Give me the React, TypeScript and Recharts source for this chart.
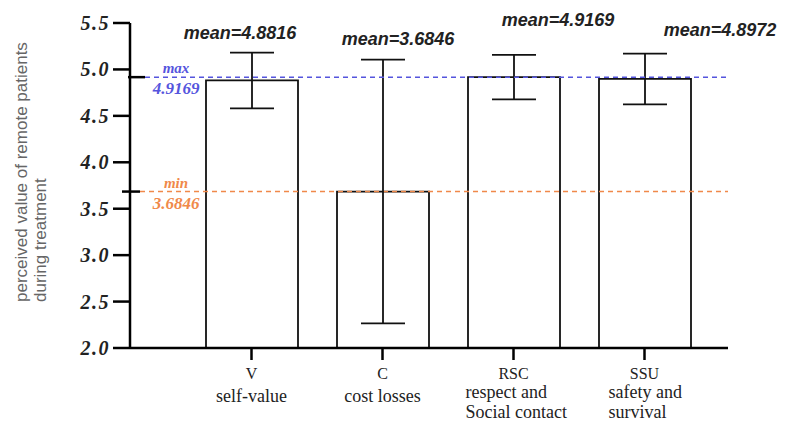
import React from 'react';
import { ComposedChart, Bar, ErrorBar, XAxis, YAxis, ReferenceLine, LabelList } from 'recharts';

// категории и значения
const codes = ['V', 'C', 'RSC', 'SSU'];
const names = [['self-value'], ['cost losses'], ['respect and', 'Social contact'], ['safety and', 'survival']];
const means = [4.8816, 3.6846, 4.9169, 4.8972];
const errors = [0.3, 1.42, 0.24, 0.274];
const yTicks = [2.0, 2.5, 3.0, 3.5, 4.0, 4.5, 5.0, 5.5];
const maxValue = 4.9169;
const minValue = 3.6846;

// смещения подписей (пиксели)
const meanLabelDx = [-12, 15, 44, 75];
const meanLabelY = [39, 45, 26, 36];
const descDx = [0, 0, -48, -36];

const data = codes.map((code, i) => ({
  code,
  mean: means[i],
  err: errors[i],
  label: `mean=${means[i].toFixed(4)}`,
}));

const serif = '"Liberation Serif", "Times New Roman", serif';
const sans = '"Liberation Sans", Arial, sans-serif';

const XTick = (props: any) => {
  const { x, y, payload, index } = props;
  const lines: string[] = names[index] || [];
  const multi = lines.length > 1;
  return (
    <g>
      <text x={x} y={y + 17} textAnchor="middle" fontFamily={serif} fontSize={16} fill="#222">
        {payload.value}
      </text>
      {lines.map((line, j) => (
        <text
          key={j}
          x={x + descDx[index]}
          y={y + (multi ? 36 + j * 20 : 40)}
          textAnchor={multi ? 'start' : 'middle'}
          fontFamily={serif}
          fontSize={18}
          fill="#222"
        >
          {line}
        </text>
      ))}
    </g>
  );
};

const YTick = (props: any) => {
  const { x, y, payload } = props;
  return (
    <text x={x} y={y + 7} textAnchor="end" fontFamily={serif} fontSize={20} fontWeight="bold" fontStyle="italic" fill="#222" letterSpacing={1.5}>
      {payload.value.toFixed(1)}
    </text>
  );
};

const makeRefShape = (color: string, name: string, value: number, solidFrom: number, solidTo: number) => (props: any) => {
  const { x1, y1, x2 } = props;
  return (
    <g>
      <line x1={x1 + solidFrom} y1={y1} x2={x1 + solidTo} y2={y1} stroke="#000" strokeWidth={2.5} />
      <line x1={x1 + solidTo} y1={y1} x2={x2} y2={y1} stroke={color} strokeWidth={1.5} strokeDasharray="5 4" />
      <text x={x1 + 46} y={y1 - 4} textAnchor="middle" fontFamily={serif} fontSize={15} fontWeight="bold" fontStyle="italic" fill={color}>
        {name}
      </text>
      <text x={x1 + 46} y={y1 + 17} textAnchor="middle" fontFamily={serif} fontSize={17} fontWeight="bold" fontStyle="italic" fill={color}>
        {value.toFixed(4)}
      </text>
    </g>
  );
};

const MeanLabel = (props: any) => {
  const { x, width, index, value } = props;
  return (
    <text x={x + width / 2 + meanLabelDx[index]} y={meanLabelY[index]} textAnchor="middle" fontFamily={sans} fontSize={18} fontWeight="bold" fontStyle="italic" fill="#222">
      {value}
    </text>
  );
};

const YLabel = (props: any) => {
  const { viewBox } = props;
  const bottom = viewBox.y + viewBox.height - 46;
  return (
    <g fontFamily={sans} fontSize={17} fill="#666">
      <text x={27} y={bottom} transform={`rotate(-90 27 ${bottom})`} textAnchor="start">
        perceived value of remote patients
      </text>
      <text x={46} y={bottom} transform={`rotate(-90 46 ${bottom})`} textAnchor="start">
        during treatment
      </text>
    </g>
  );
};

const App: React.FC = () => {
  return (
    <div style={{ position: 'absolute', left: 0, top: 0, background: '#fff' }}>
      <ComposedChart width={785} height={421} data={data} margin={{ top: 23, right: 57, bottom: 0, left: 0 }}>
        <XAxis
          dataKey="code"
          height={73}
          padding={{ left: 56, right: 18 }}
          axisLine={{ stroke: '#000', strokeWidth: 2.5 }}
          tickLine={{ stroke: '#000', strokeWidth: 2.5 }}
          tickSize={12}
          tickMargin={2}
          tick={<XTick />}
          interval={0}
        />
        <YAxis
          width={130}
          domain={[2, 5.5]}
          ticks={yTicks}
          allowDataOverflow
          axisLine={{ stroke: '#000', strokeWidth: 2.5 }}
          tickLine={{ stroke: '#000', strokeWidth: 2.5 }}
          tickSize={17}
          tickMargin={3}
          tick={<YTick />}
          label={{ content: <YLabel /> }}
        />
        <ReferenceLine y={minValue} shape={makeRefShape('#f0894a', 'min', minValue, -8, 10)} />
        <Bar dataKey="mean" fill="#fff" stroke="#111" strokeWidth={1.8} barSize={92} isAnimationActive={false}>
          <ErrorBar dataKey="err" width={22} stroke="#111" strokeWidth={1.8} direction="y" />
          <LabelList dataKey="label" content={<MeanLabel />} />
        </Bar>
        <ReferenceLine y={maxValue} shape={makeRefShape('#5555dd', 'max', maxValue, -2, 15)} />
      </ComposedChart>
    </div>
  );
};

export default App;
